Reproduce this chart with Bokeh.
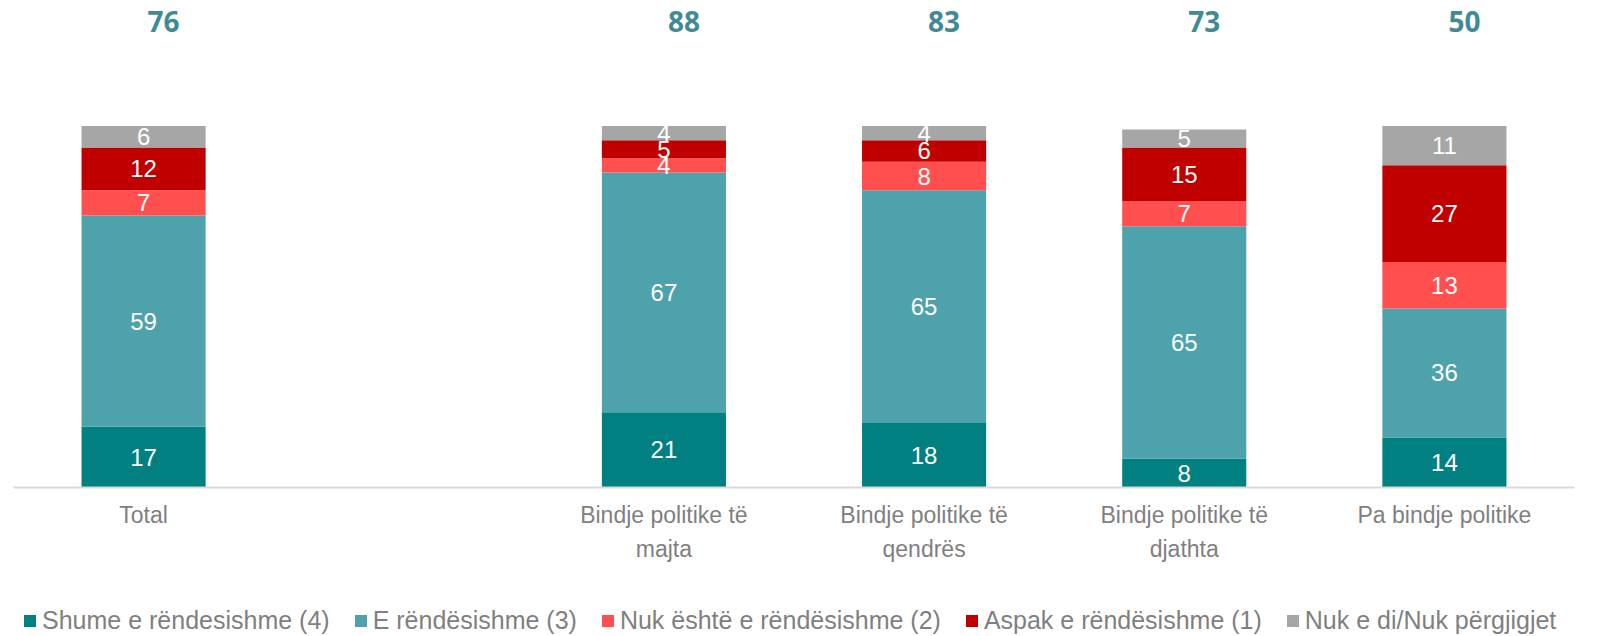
from bokeh.plotting import figure
from bokeh.models import ColumnDataSource, FactorRange, Legend, LegendItem, Span
from bokeh.core.properties import value
from bokeh.embed import file_html
from bokeh.resources import INLINE

# ---- data ----
factors = ["Total", " ", "Bindje politike të\nmajta", "Bindje politike të\nqendrës",
           "Bindje politike të\ndjathta", "Pa bindje politike"]
categories = ["Total", "Bindje politike të\nmajta", "Bindje politike të\nqendrës",
              "Bindje politike të\ndjathta", "Pa bindje politike"]
series_names = ["Shume e rëndesishme (4)", "E rëndësishme (3)", "Nuk është e rëndësishme (2)",
                "Aspak e rëndësishme (1)", "Nuk e di/Nuk përgjigjet"]
shume = [17, 21, 18, 8, 14]
e_rend = [59, 67, 65, 65, 36]
nuk_eshte = [7, 4, 8, 7, 13]
aspak = [12, 5, 6, 15, 27]
nuk_di = [6, 4, 4, 5, 11]
top_totals = [76, 88, 83, 73, 50]

colors = ["#008080", "#4EA2AC", "#FF4F4F", "#C00000", "#A6A6A6"]
keys = ["s1", "s2", "s3", "s4", "s5"]
series = [shume, e_rend, nuk_eshte, aspak, nuk_di]

data = {"cat": categories}
for k, s in zip(keys, series):
    data[k] = s
source = ColumnDataSource(data)

p = figure(x_range=FactorRange(factors=factors, range_padding=0), y_range=(-41.62, 136.03),
           width=1621, height=636, output_backend="svg", toolbar_location=None,
           x_axis_location=None, y_axis_location=None,
           min_border_left=13, min_border_right=47, min_border_top=0, min_border_bottom=0)
p.outline_line_color = None
p.xgrid.grid_line_color = None
p.ygrid.grid_line_color = None

renderers = p.vbar_stack(keys, x="cat", width=0.477, color=colors, line_color=None, source=source)

# baseline (category axis line)
p.add_layout(Span(location=0, dimension="width", line_color="#D9D9D9", line_width=2))

# category labels
p.text(x=categories, y=[0] * len(categories), text=categories, text_color="#7F7F7F",
       text_font=value("Liberation Sans"), text_font_size="23px", text_align="center",
       text_baseline="top", y_offset=15, text_line_height=1.3)

# segment labels
lab_x, lab_y, lab_t = [], [], []
for i, cat in enumerate(categories):
    bottom = 0
    for s in series:
        v = s[i]
        lab_x.append(cat)
        lab_y.append(bottom + v / 2)
        lab_t.append(str(v))
        bottom += v
p.text(x=lab_x, y=lab_y, text=lab_t, text_color="white", text_font=value("Liberation Sans"),
       text_font_size="24px", text_align="center", text_baseline="middle")

# top totals
p.text(x=categories, y=[130.3] * len(categories), text=[str(t) for t in top_totals],
       text_color="#3F8B93", text_font=value("Open Sans"), text_font_style="bold",
       text_font_size="28px", text_align="center", text_baseline="middle", x_offset=20)

legend = Legend(items=[LegendItem(label=n, renderers=[r]) for n, r in zip(series_names, renderers)],
                orientation="horizontal", location=(9, 1), border_line_color=None,
                background_fill_alpha=0, padding=0, margin=0, spacing=23,
                glyph_width=15, glyph_height=15, label_standoff=5,
                label_text_font="Liberation Sans", label_text_font_size="25px",
                label_text_color="#7F7F7F")
p.add_layout(legend, "center")

open("out.html", "w").write(file_html(p, INLINE))
